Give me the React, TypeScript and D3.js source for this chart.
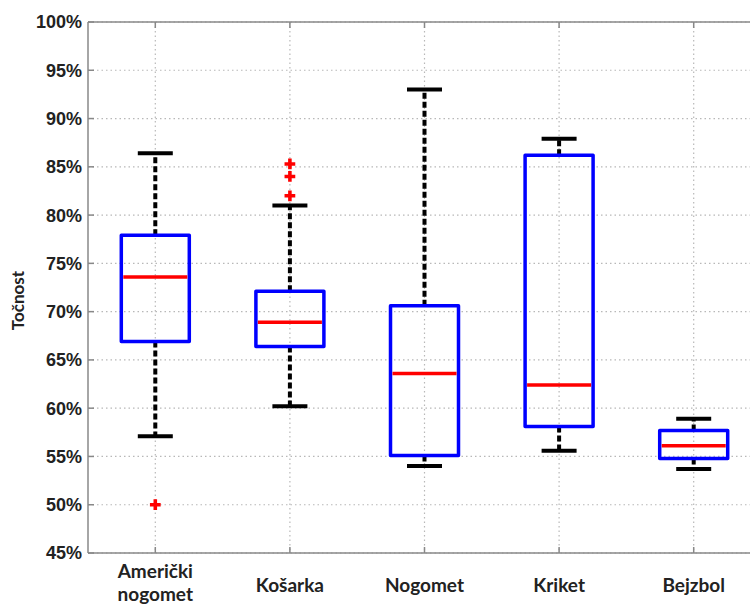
import React from "react";
import * as d3 from "d3";

const categories = ["Američki\nnogomet", "Košarka", "Nogomet", "Kriket", "Bejzbol"];
const whiskerLow = [57.1, 60.2, 54.0, 55.6, 53.7];
const q1 = [66.9, 66.4, 55.1, 58.1, 54.8];
const median = [73.6, 68.9, 63.6, 62.4, 56.1];
const q3 = [77.9, 72.1, 70.6, 86.2, 57.7];
const whiskerHigh = [86.4, 81.0, 93.0, 87.9, 58.9];
const outliers: number[][] = [[50.0], [82.0, 84.0, 85.3], [], [], []];
const yTicks = [45, 50, 55, 60, 65, 70, 75, 80, 85, 90, 95, 100];

const W = 750, H = 608;
const left = 88, top = 22, bottom = 553, right = 761;

export default function App() {
  const x = d3.scaleLinear().domain([0.5, 5.5]).range([left, right]);
  const y = d3.scaleLinear().domain([45, 100]).range([bottom, top]);
  const boxW = 68;
  const capW = 35;
  const grid = "#b8b8b8";
  return (
    <svg width={W} height={H} style={{ position: "absolute", left: 0, top: 0, background: "#fff" }}>
      {yTicks.map((t) => (
        <line key={"gy" + t} x1={left} x2={right} y1={y(t)} y2={y(t)} stroke={grid} strokeWidth={1.2} strokeDasharray="1.5,3" />
      ))}
      {categories.map((c, i) => (
        <line key={"gx" + i} x1={x(i + 1)} x2={x(i + 1)} y1={top} y2={bottom} stroke={grid} strokeWidth={1.2} strokeDasharray="1.5,3" />
      ))}
      <line x1={left} x2={right} y1={top} y2={top} stroke="#888" strokeWidth={1.5} />
      <line x1={left} x2={right} y1={bottom} y2={bottom} stroke="#888" strokeWidth={1.5} />
      <line x1={left} x2={left} y1={top} y2={bottom} stroke="#888" strokeWidth={1.5} />
      {categories.map((c, i) => (
        <g key={"tk" + i}>
          <line x1={x(i + 1)} x2={x(i + 1)} y1={bottom} y2={bottom - 6} stroke="#888" strokeWidth={1.5} />
          <line x1={x(i + 1)} x2={x(i + 1)} y1={top} y2={top + 6} stroke="#888" strokeWidth={1.5} />
        </g>
      ))}
      {yTicks.map((t) => (
        <line key={"ty" + t} x1={left} x2={left + 6} y1={y(t)} y2={y(t)} stroke="#888" strokeWidth={1.5} />
      ))}
      {yTicks.map((t) => (
        <text key={"yl" + t} x={82} y={y(t)} dy="0.36em" textAnchor="end" fontFamily="Liberation Sans, Arial, sans-serif" fontWeight="bold" fontSize={18} fill="#222">
          {t + "%"}
        </text>
      ))}
      <text transform={`translate(24,${(top + bottom) / 2 + 13}) rotate(-90)`} textAnchor="middle" fontFamily="Lato, sans-serif" fontWeight="bold" fontSize={17} fill="#222">
        Točnost
      </text>
      {categories.map((c, i) => {
        const lines = c.split("\n");
        const base = lines.length > 1 ? 578 : 592;
        return (
          <text key={"xl" + i} x={x(i + 1)} textAnchor="middle" fontFamily="Lato, sans-serif" fontWeight="bold" fontSize={19} fill="#222">
            {lines.map((l, j) => (
              <tspan key={j} x={x(i + 1)} y={base + j * 23}>{l}</tspan>
            ))}
          </text>
        );
      })}
      {categories.map((c, i) => {
        const cx = x(i + 1);
        return (
          <g key={"b" + i}>
            <line x1={cx} x2={cx} y1={y(q3[i])} y2={y(whiskerHigh[i])} stroke="#000" strokeWidth={4} strokeDasharray="6,3" />
            <line x1={cx} x2={cx} y1={y(q1[i])} y2={y(whiskerLow[i])} stroke="#000" strokeWidth={4} strokeDasharray="6,3" />
            <line x1={cx - capW / 2} x2={cx + capW / 2} y1={y(whiskerHigh[i])} y2={y(whiskerHigh[i])} stroke="#000" strokeWidth={4} />
            <line x1={cx - capW / 2} x2={cx + capW / 2} y1={y(whiskerLow[i])} y2={y(whiskerLow[i])} stroke="#000" strokeWidth={4} />
            <rect x={cx - boxW / 2} y={y(q3[i])} width={boxW} height={y(q1[i]) - y(q3[i])} fill="none" stroke="#0000ff" strokeWidth={3.5} strokeLinejoin="round" />
            <line x1={cx - boxW / 2 + 2} x2={cx + boxW / 2 - 2} y1={y(median[i])} y2={y(median[i])} stroke="#ff0000" strokeWidth={3.5} />
            {outliers[i].map((o, k) => (
              <path key={k} d={d3.symbol(d3.symbolCross, 64)() || ""} transform={`translate(${cx},${y(o)})`} fill="#ff0000" />
            ))}
          </g>
        );
      })}
    </svg>
  );
}
